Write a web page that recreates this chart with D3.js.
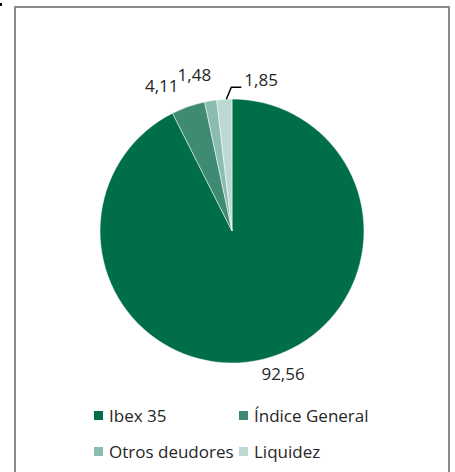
<!DOCTYPE html>
<html><head><meta charset="utf-8">
<script src="https://cdn.jsdelivr.net/npm/d3@7"></script>
<style>body{margin:0;background:#fff}svg{display:block}</style>
</head><body>
<script>
const categories = ["Ibex 35", "Índice General", "Otros deudores", "Liquidez"];
const values = [92.56, 4.11, 1.48, 1.85];
const valueLabels = ["92,56", "4,11", "1,48", "1,85"];
const colors = ["#006f47", "#3e8a72", "#8bbcb0", "#bcdad3"];

const W = 455, H = 472;
const svg = d3.select("body").append("svg").attr("width", W).attr("height", H);
svg.append("rect").attr("x",0).attr("y",3).attr("width",2).attr("height",3).attr("fill","#000");
svg.append("rect").attr("x",15).attr("y",7).attr("width",434).attr("height",480)
  .attr("fill","#fff").attr("stroke","#8a8a8a").attr("stroke-width",2);

const cx = 232, cy = 231, r = 132;
const pie = d3.pie().sort(null).value(d => d)(values);
const arc = d3.arc().innerRadius(0).outerRadius(r);
const g = svg.append("g").attr("transform", `translate(${cx},${cy})`);
g.selectAll("path").data(pie).join("path")
  .attr("d", arc).attr("fill", (d,i) => colors[i])
  .attr("stroke", "#fff").attr("stroke-width", 0.5);

// label layout: radius, anchor, offsets
const lay = [
  {R: r+8, anchor:"start", dx:-3, dy:13, line:false},
  {R: r+8, anchor:"end", dx:-7, dy:-7, line:false},
  {R: r+8, anchor:"middle", dx:-15, dy:-12, line:false},
  {R: r, anchor:"start", dx:20, dy:-13, line:true}
];
const font = "'Open Sans', sans-serif";
const fs = 17;
pie.forEach((d,i) => {
  const a = (d.startAngle + d.endAngle)/2;
  const L = lay[i];
  const px = Math.sin(a)*L.R, py = -Math.cos(a)*L.R;
  if (L.line) {
    const ex = px+7, ey = py-12;
    g.append("path").attr("d", `M${px+2},${py}L${ex},${ey}L${ex+10},${ey}`)
      .attr("fill","none").attr("stroke","#000").attr("stroke-width",1.5);
  }
  g.append("text").attr("x", px+L.dx).attr("y", py+L.dy)
    .attr("text-anchor", L.anchor)
    .attr("font-family", font).attr("font-size", fs).attr("fill","#262626")
    .text(valueLabels[i]);
});

// legend
const legX = [94, 239], legY = [416, 452];
categories.forEach((c,i) => {
  const x = legX[i%2], y = legY[Math.floor(i/2)];
  svg.append("rect").attr("x", x).attr("y", y-5).attr("width", 9).attr("height", 9).attr("fill", colors[i]);
  svg.append("text").attr("x", x+15).attr("y", y+6)
    .attr("font-family", font).attr("font-size", fs).attr("fill","#262626").text(c);
});
</script>
</body></html>
